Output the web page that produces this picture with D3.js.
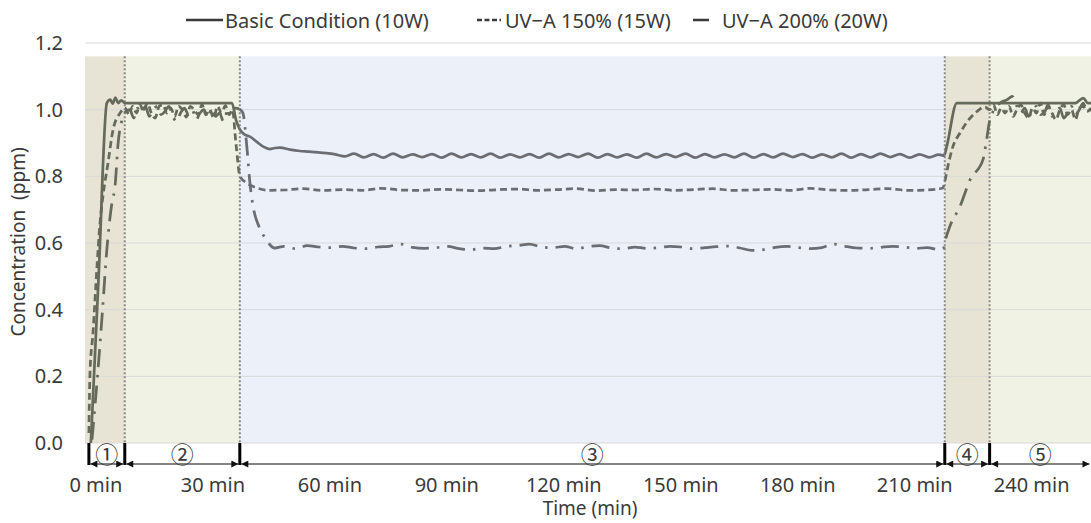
<!DOCTYPE html>
<html lang="en">
<head>
<meta charset="UTF-8">
<script src="https://cdnjs.cloudflare.com/ajax/libs/d3/7.8.5/d3.min.js"></script>
<title>Concentration over time</title>
<style>
  body { margin: 0; background: #fff; font-family: 'Noto Sans', sans-serif; }
  .axis text { fill: #3a3a3a; font-size: 20px; font-family: 'Noto Sans', sans-serif; }
  .axis path { display: none; }
  .legend text { fill: #3a3a3a; font-size: 20px; }
  .title { fill: #3a3a3a; font-size: 19px; }
</style>
</head>
<body>
<svg width="1091" height="523"></svg>
<script>
const seriesNames = ['Basic Condition (10W)', 'UV\u2212A 150% (15W)', 'UV\u2212A 200% (20W)']
const phaseBounds = [0, 9.2, 38.7, 219.5, 231, 257]
const phaseLabels = ['\u2460', '\u2461', '\u2462', '\u2463', '\u2464']
const xTicks = [0, 30, 60, 90, 120, 150, 180, 210, 240]
const yTicks = [0, 0.2, 0.4, 0.6, 0.8, 1.0, 1.2]
const bgTop = 1.16

// [minutes, ppm]
const basic = [[0.5,0],[2.5,0.5],[4.6,1.02],[5.5,1.03],[6.1,1.018],[6.8,1.036],[7.5,1.02],[8.3,1.028],[9.2,1.02],[12,1.02],[20,1.02],[30,1.02],[36.7,1.02],
  [37.7,0.97],[38.75,0.94],[40,0.925],[41.3,0.919],[42.9,0.905],[44.7,0.889],[46.4,0.882],[47.7,0.885],[49,0.886],[51.6,0.88],[54.1,0.876],[56.5,0.874],[59.3,0.871],[61.5,0.869],[63.1,0.866],[65.7,0.86],
  [68,0.868],[70.5,0.857],[73,0.867],[75.5,0.856],[78,0.868],[80.5,0.857],[83,0.866],[85.5,0.858],[88,0.867],[90.5,0.856],[93,0.868],[95.5,0.857],[98,0.867],[100.5,0.857],
  [103,0.868],[105.5,0.856],[108,0.866],[110.5,0.857],[113,0.867],[115.5,0.856],[118,0.868],[120.5,0.857],[123,0.867],[125.5,0.858],[128,0.868],[130.5,0.856],[133,0.867],
  [135.5,0.857],[138,0.866],[140.5,0.856],[143,0.868],[145.5,0.857],[148,0.867],[150.5,0.858],[153,0.868],[155.5,0.856],[158,0.867],[160.5,0.857],[163,0.866],[165.5,0.857],
  [168,0.868],[170.5,0.856],[173,0.867],[175.5,0.857],[178,0.868],[180.5,0.858],[183,0.867],[185.5,0.856],[188,0.866],[190.5,0.857],[193,0.868],[195.5,0.856],[198,0.867],
  [200.5,0.857],[203,0.868],[205.5,0.858],[208,0.867],[210.5,0.856],[213,0.866],[215.5,0.857],[218,0.865],[219.3,0.862],[219.9,0.885],[222.6,1.02],[230,1.02],[240,1.02],
  [250,1.02],[253,1.02],[255,1.035],[256.2,1.02],[257,1.02]]

const uva150 = [[0,0.03],[0.28,0.21],[1.05,0.33],[2.08,0.53],[2.85,0.66],[3.6,0.74],[4.9,0.84],[6.2,0.94],[8,0.99],[9.3,1.005],
  [10.3,0.985],[11.2,1.01],[12.2,0.99],[13.1,1.015],[14,0.995],[15,1.02],[16,0.99],[17,0.975],[18,1.01],[19,1.015],[20,0.99],[21,1.005],[22,0.98],[23,1.01],[24,1.0],
  [25,0.978],[26,1.01],[27,1.0],[28,0.985],[29,1.015],[30,0.985],[31,1.0],[32,0.975],[33,1.01],[34,0.99],[35,1.012],[36,0.985],[36.8,1.0],
  [37.7,0.9],[38.75,0.8],[40.5,0.78],[42,0.77],[44,0.762],[46,0.758],[50,0.759],[55,0.763],[60,0.758],[65,0.76],[70,0.758],[75,0.764],[80,0.759],[85,0.758],[90,0.761],
  [95,0.759],[100,0.757],[105,0.76],[110,0.762],[115,0.758],[120,0.76],[125,0.763],[130,0.757],[135,0.76],[140,0.759],[145,0.762],[150,0.758],[155,0.76],[160,0.763],
  [165,0.758],[170,0.759],[175,0.761],[180,0.758],[185,0.764],[190,0.759],[195,0.758],[200,0.76],[205,0.763],[210,0.758],[215,0.759],[219,0.765],
  [219.6,0.79],[220.3,0.83],[221.6,0.89],[223.4,0.93],[225,0.96],[227.3,0.99],[229.8,1.008],
  [231,1.0],[232,1.015],[233,0.985],[234,1.005],[235,0.99],[236,1.01],[237,0.98],[238,1.0],[239,1.015],[240,0.99],[241,0.975],[242,1.005],[243,0.99],[244,1.02],
  [245,0.985],[246,1.01],[247,0.99],[248,0.97],[249,1.0],[250,1.015],[251,0.985],[252,1.0],[253,0.97],[254,1.005],[255,1.01],[256,0.995],[257,1.005]]

const uva200 = [[0.8,0.01],[2.2,0.2],[3.5,0.4],[4.6,0.58],[5.9,0.72],[6.7,0.77],[7.5,0.9],[8.5,0.97],[9.5,0.995],
  [10.5,1.0],[11.5,0.975],[12.5,1.005],[13.5,0.99],[14.5,1.01],[15.5,0.98],[16.5,1.0],[17.5,1.01],[18.5,0.985],[19.5,0.995],[20.5,1.01],[21.5,0.98],[22.5,0.965],
  [23.5,0.99],[24.5,1.005],[25.5,0.985],[26.5,1.0],[27.5,0.97],[28.5,0.99],[29.5,1.0],[30.5,0.975],[31.5,1.005],[32.5,0.98],[33.5,0.99],[34.5,0.965],[35.5,0.995],
  [36.5,1.0],[37.5,1.005],[38.8,1.0],[39.5,0.99],[40.5,0.89],[41.3,0.78],[42.1,0.71],[43.6,0.65],[45.2,0.615],[47.7,0.585],
  [50,0.59],[53,0.583],[56,0.592],[59,0.588],[62,0.586],[65,0.59],[68,0.585],[71,0.583],[74,0.588],[77,0.59],[80,0.597],[83,0.587],[86,0.584],[89,0.586],[92,0.59],
  [95,0.583],[98,0.58],[101,0.585],[104,0.583],[107,0.59],[110,0.592],[113,0.597],[116,0.588],[119,0.586],[122,0.59],[125,0.583],[128,0.589],[131,0.592],[134,0.585],
  [137,0.583],[140,0.588],[143,0.584],[146,0.586],[149,0.59],[152,0.588],[155,0.583],[158,0.586],[161,0.589],[164,0.591],[167,0.585],[170,0.578],[173,0.58],[176,0.587],
  [179,0.59],[182,0.586],[185,0.583],[188,0.586],[191,0.597],[194,0.59],[197,0.585],[200,0.584],[203,0.587],[206,0.59],[209,0.588],[212,0.584],[215,0.586],[218,0.58],
  [219.2,0.585],[219.8,0.615],[220.8,0.65],[223.4,0.71],[226,0.79],[229.3,0.85],[230.1,0.9],[230.9,0.96],[231.9,0.995],[233.7,1.02],[235.5,1.03],[236.8,1.04],[238,1.01],
  [239,0.99],[240,1.005],[241,0.98],[242,0.995],[243,1.01],[244,0.985],[245,0.99],[246,1.015],[247,0.98],[248,0.995],[249,1.005],[250,0.975],[251,0.99],[252,1.01],
  [253,0.985],[254,1.0],[255,1.02],[256,0.995],[257,1.0]]

const series = [basic, uva150, uva200]
const dashes = ['none', '7,4', '18,8,2.5,8']
const phaseFill = ['#e7e4d5', '#f0f3e4', '#ebf0f9', '#e7e4d5', '#f0f3e4']

const svg = d3.select('svg')
const x = d3.scaleLinear().domain([-1, 257]).range([85, 1091])
const y = d3.scaleLinear().domain([0, 1.2]).range([443, 43])

// phase backgrounds
const bgEdges = [-1].concat(phaseBounds.slice(1))
svg.selectAll('rect.bg')
  .data(phaseFill)
  .enter().append('rect')
  .attr('class', 'bg')
  .attr('x', (d, i) => x(bgEdges[i]))
  .attr('width', (d, i) => x(bgEdges[i + 1]) - x(bgEdges[i]))
  .attr('y', y(bgTop))
  .attr('height', y(0) - y(bgTop))
  .attr('fill', d => d)

// gridlines
svg.selectAll('line.grid')
  .data(yTicks)
  .enter().append('line')
  .attr('x1', 85).attr('x2', 1091)
  .attr('y1', d => y(d)).attr('y2', d => y(d))
  .attr('stroke', '#d9d9d9')
  .attr('stroke-width', 1)

// dotted phase separators
svg.selectAll('line.sep')
  .data(phaseBounds.slice(1, 5))
  .enter().append('line')
  .attr('x1', d => x(d)).attr('x2', d => x(d))
  .attr('y1', y(bgTop)).attr('y2', y(0))
  .attr('stroke', '#888')
  .attr('stroke-width', 2)
  .attr('stroke-dasharray', '2,2')

// clip regions: phase 3 vs. the others
const defs = svg.append('defs')
defs.append('clipPath').attr('id', 'clipMid')
  .append('rect')
  .attr('x', x(phaseBounds[2])).attr('y', 0)
  .attr('width', x(phaseBounds[3]) - x(phaseBounds[2])).attr('height', 523)
const clipOut = defs.append('clipPath').attr('id', 'clipOut')
clipOut.append('rect').attr('x', 0).attr('y', 0)
  .attr('width', x(phaseBounds[2])).attr('height', 523)
clipOut.append('rect').attr('x', x(phaseBounds[3])).attr('y', 0)
  .attr('width', 1091 - x(phaseBounds[3])).attr('height', 523)

const line = d3.line()
  .x(d => x(d[0]))
  .y(d => y(d[1]))
  .curve(d3.curveMonotoneX)

const layers = [['clipOut', '#656a5b'], ['clipMid', '#6b6d73']]
layers.forEach(([clip, color]) => {
  const g = svg.append('g').attr('clip-path', 'url(#' + clip + ')')
  series.forEach((s, i) => {
    g.append('path')
      .attr('d', line(s))
      .attr('fill', 'none')
      .attr('stroke', color)
      .attr('stroke-width', 2.75)
      .attr('stroke-dasharray', dashes[i])
  })
})

// axes
const xAxis = d3.axisBottom(x).tickValues(xTicks).tickFormat(d => d + ' min').tickSize(0).tickPadding(35)
svg.append('g')
  .attr('class', 'axis')
  .attr('transform', 'translate(0,' + y(0) + ')')
  .call(xAxis)
  .selectAll('text').attr('dx', 6.5)

const yAxis = d3.axisLeft(y).tickValues(yTicks).tickFormat(d3.format('.1f')).tickSize(0).tickPadding(22)
svg.append('g')
  .attr('class', 'axis')
  .attr('transform', 'translate(85,0)')
  .call(yAxis)

// phase markers
defs.append('marker')
  .attr('id', 'arrow')
  .attr('viewBox', '0 0 10 10')
  .attr('refX', 10).attr('refY', 5)
  .attr('markerWidth', 8).attr('markerHeight', 7)
  .attr('markerUnits', 'userSpaceOnUse')
  .attr('orient', 'auto-start-reverse')
  .append('path').attr('d', 'M0,0L10,5L0,10Z').attr('fill', '#111')

const arrowY = 464
svg.selectAll('line.parrow')
  .data(phaseLabels)
  .enter().append('line')
  .attr('x1', (d, i) => x(phaseBounds[i]) + 1.5)
  .attr('x2', (d, i) => Math.min(x(phaseBounds[i + 1]) - 1.5, 1090))
  .attr('y1', arrowY).attr('y2', arrowY)
  .attr('stroke', '#5a5a5a')
  .attr('stroke-width', 1.5)
  .attr('marker-start', 'url(#arrow)')
  .attr('marker-end', 'url(#arrow)')

svg.selectAll('line.pmark')
  .data(phaseBounds.slice(0, 5))
  .enter().append('line')
  .attr('x1', d => x(d)).attr('x2', d => x(d))
  .attr('y1', y(0)).attr('y2', arrowY + 1)
  .attr('stroke', '#000')
  .attr('stroke-width', 3)

svg.selectAll('text.plabel')
  .data(phaseLabels)
  .enter().append('text')
  .attr('x', (d, i) => (x(phaseBounds[i]) + x(phaseBounds[i + 1])) / 2)
  .attr('y', 453)
  .attr('text-anchor', 'middle')
  .attr('dominant-baseline', 'central')
  .style('font-family', "'Noto Sans CJK KR', sans-serif")
  .style('font-size', '23px')
  .attr('fill', '#3a3a3a')
  .text(d => d)

// axis titles
svg.append('text')
  .attr('class', 'title')
  .attr('x', 590).attr('y', 515)
  .attr('text-anchor', 'middle')
  .text('Time (min)')

svg.append('text')
  .attr('class', 'title')
  .attr('transform', 'translate(25,242) rotate(-90)')
  .attr('text-anchor', 'middle')
  .text('Concentration\u00a0 (ppm)')

// legend
const legendItems = [
  { x1: 186, x2: 223, tx: 225 },
  { x1: 477, x2: 501, tx: 505 },
  { x1: 693, x2: 709, tx: 722 }
]
const legend = svg.append('g').attr('class', 'legend')
legendItems.forEach((d, i) => {
  legend.append('line')
    .attr('x1', d.x1).attr('x2', d.x2)
    .attr('y1', 20).attr('y2', 20)
    .attr('stroke', '#3a3a3a')
    .attr('stroke-width', 2.5)
    .attr('stroke-dasharray', i === 1 ? '5,2.5' : 'none')
  legend.append('text')
    .attr('x', d.tx).attr('y', 20)
    .attr('dominant-baseline', 'central')
    .text(seriesNames[i])
})
</script>
</body>
</html>
